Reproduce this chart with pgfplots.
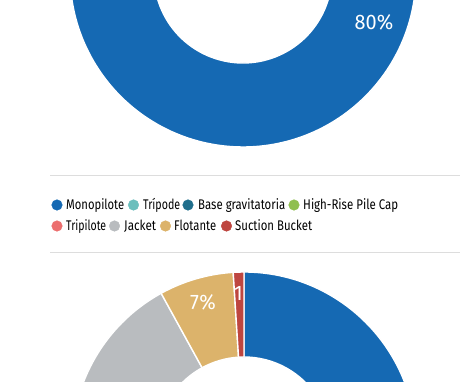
\documentclass[border=0pt]{standalone}
\usepackage{pgfplots}
\pgfplotsset{compat=1.18}
\usepackage{graphicx}
\usepackage{fontspec}
\setmainfont{Fira Sans}
\definecolor{cMono}{HTML}{1569B3}
\definecolor{cTrip}{HTML}{6BBFBD}
\definecolor{cBase}{HTML}{1F6E8C}
\definecolor{cHigh}{HTML}{8FBF4F}
\definecolor{cTpil}{HTML}{EC6E6E}
\definecolor{cJack}{HTML}{B9BCBF}
\definecolor{cFlot}{HTML}{DCB36B}
\definecolor{cSuct}{HTML}{BE4640}
\definecolor{cRule}{HTML}{DDDDDD}

% donut: cx, cy, outer R, inner r, list of value/colour (clockwise from 12 o'clock)
\newcommand\donut[5]{%
  \xdef\cum{0}%
  \foreach \v/\c in {#5}{%
    \pgfmathsetmacro\a{90-3.6*\cum}%
    \pgfmathsetmacro\b{90-3.6*(\cum+\v)}%
    \edef\tmp{\noexpand\fill[\c, draw=white, line width=1.4pt, line join=round]
      ([shift={(\a:#3pt)}]axis cs:#1,#2) arc[start angle=\a, end angle=\b, radius=#3pt]
      -- ([shift={(\b:#4pt)}]axis cs:#1,#2) arc[start angle=\b, end angle=\a, radius=#4pt] -- cycle;}%
    \tmp
    \pgfmathsetmacro\n{\cum+\v}%
    \xdef\cum{\n}%
  }%
}
\newcommand\lt[2]{\resizebox{#1pt}{\height}{#2}}

\begin{document}
\begin{tikzpicture}
\begin{axis}[name=ax, width=475pt, height=382pt, scale only axis,
  xmin=0, xmax=475, ymin=0, ymax=382, hide axis, clip=true]

% top donut (share of foundations, %)
\donut{243}{408}{173}{89}{80/cMono, 2/cTrip, 1/cBase, 1/cHigh, 1/cTpil, 10/cJack, 4/cFlot, 1/cSuct}
% bottom donut (%)
\donut{244}{-62}{172}{87}{66/cMono, 2/cTrip, 2/cBase, 2/cHigh, 2/cTpil, 18/cJack, 7/cFlot, 1/cSuct}

\node[anchor=base, font=\fontsize{20}{20}\selectfont] at (axis cs:244,384) {(\hspace{86pt})};
\node[text=white, font=\fontsize{21}{21}\selectfont, xscale=0.95] at (axis cs:374,360) {80\%};
\node[text=white, font=\fontsize{21}{21}\selectfont, xscale=0.95] at (axis cs:203,80) {7\%};
\node[text=white, font=\fontsize{21}{21}\selectfont, xscale=0.95] at (axis cs:238.5,88.5) {1};

% rules
\addplot[color=cRule, line width=1pt] coordinates {(50,206) (460,206)};
\addplot[color=cRule, line width=1pt] coordinates {(50,129) (460,129)};

% legend markers
\addplot[only marks, mark=*, mark size=5.3pt, color=cMono] coordinates {(57,177)};
\addplot[only marks, mark=*, mark size=5.3pt, color=cTrip] coordinates {(133.5,177)};
\addplot[only marks, mark=*, mark size=5.3pt, color=cBase] coordinates {(188,177)};
\addplot[only marks, mark=*, mark size=5.3pt, color=cHigh] coordinates {(294,177)};
\addplot[only marks, mark=*, mark size=5.3pt, color=cTpil] coordinates {(57,156)};
\addplot[only marks, mark=*, mark size=5.3pt, color=cJack] coordinates {(114.5,156)};
\addplot[only marks, mark=*, mark size=5.3pt, color=cFlot] coordinates {(165.5,156)};
\addplot[only marks, mark=*, mark size=5.3pt, color=cSuct] coordinates {(226.5,156)};

\begin{scope}[every node/.style={anchor=base west, inner sep=0pt, font=\fontsize{14}{14}\selectfont}]
\node at (axis cs:66,172) {\lt{58}{Monopilote}};
\node at (axis cs:143,172) {\lt{37}{Trípode}};
\node at (axis cs:198,172) {\lt{87}{Base gravitatoria}};
\node at (axis cs:303,172) {\lt{95}{High-Rise Pile Cap}};
\node at (axis cs:66,151) {\lt{40}{Tripilote}};
\node at (axis cs:124,151) {\lt{32}{Jacket}};
\node at (axis cs:174,151) {\lt{42}{Flotante}};
\node at (axis cs:235,151) {\lt{77}{Suction Bucket}};
\end{scope}
\end{axis}
\pgfresetboundingbox
\path (ax.south west) rectangle (ax.north east);
\end{tikzpicture}
\end{document}
